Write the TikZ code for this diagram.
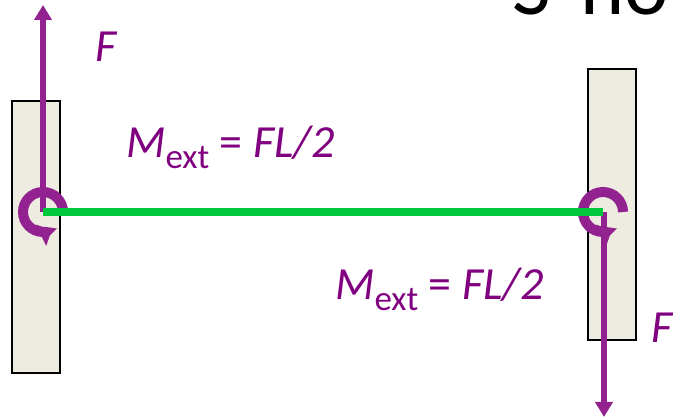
\documentclass[tikz,border=0pt]{standalone}
\usepackage{fontspec}
\setmainfont{Carlito}
\usetikzlibrary{arrows.meta}

\definecolor{forcepurple}{RGB}{146,34,144}
\definecolor{labelpurple}{RGB}{128,0,128}
\definecolor{beamgreen}{RGB}{0,200,60}
\definecolor{wallfill}{RGB}{238,236,225}

\newcommand{\mextlabel}{\textit{M}{\fontsize{35}{35}\selectfont\raisebox{-11pt}{ext}}\ =\ \textit{FL/2}}

\begin{document}
\begin{tikzpicture}[
  x=1pt, y=1pt,
  font=\fontsize{46}{52}\selectfont,
  wallbox/.style={draw, line width=1.6pt, fill=wallfill, minimum width=48pt, inner sep=0pt},
  forcearrow/.style={draw=forcepurple, line width=5.5pt, -{Triangle[length=15pt, width=17pt]}},
  momentarrow/.style={draw=forcepurple, line width=10pt, -{Triangle[length=12pt, width=23pt]}},
  lbl/.style={text=labelpurple, anchor=base west, inner sep=0pt}
]
  \useasboundingbox (0,0) rectangle (673,419);
  \begin{scope}
    \clip (0,0) rectangle (673,419);
    \node[anchor=base west, inner sep=0pt, font=\fontsize{84}{90}\selectfont] (title) at (512,404) {S\hspace{30pt}no};
  \end{scope}

  % walls
  \node[wallbox, minimum height=272pt] (wallL) at (36,182) {};
  \node[wallbox, minimum height=271pt] (wallR) at (612,214.5) {};

  % joints and force tips
  \coordinate (jL) at (43,207);
  \coordinate (jR) at (603,207);
  \coordinate (tipL) at (43,414);
  \coordinate (tipR) at (604,2);

  \draw[forcearrow] (jL) -- (tipL);
  \draw[forcearrow] (jR -| tipR) -- (tipR);

  % moments
  \draw[momentarrow] (jL) ++(0:20) arc[start angle=0, end angle=296, radius=20];
  \draw[momentarrow] (jR) ++(0:20) arc[start angle=0, end angle=296, radius=20];

  % beam
  \draw[beamgreen, line width=7.5pt] (jL) -- (jR);

  \node[lbl] (fL) at (95,357) {\textit{F}};
  \node[lbl] (mL) at (126,261) {\mextlabel};
  \node[lbl] (mR) at (335,119) {\mextlabel};
  \node[lbl] (fR) at (651,76) {\textit{F}};
\end{tikzpicture}
\end{document}
